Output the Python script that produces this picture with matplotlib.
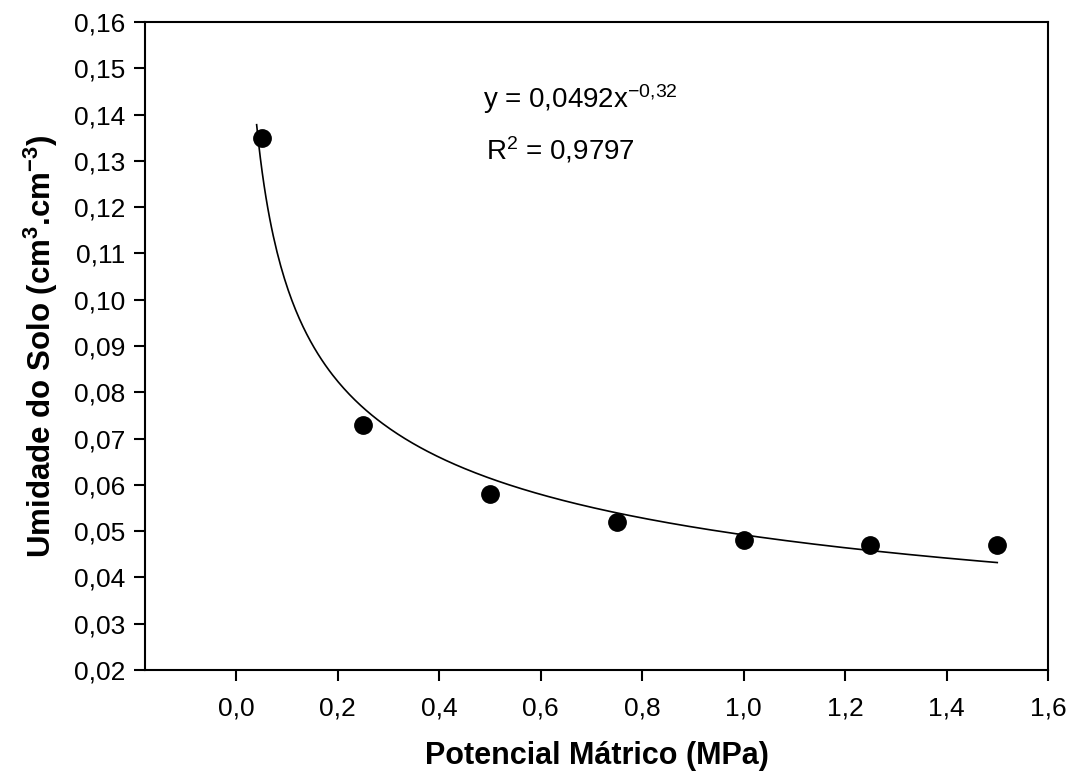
import numpy as np
import matplotlib
matplotlib.use("Agg")
import matplotlib.pyplot as plt

plt.rcParams['font.family'] = ['Liberation Sans', 'DejaVu Sans']
plt.rcParams['mathtext.fontset'] = 'custom'
plt.rcParams['mathtext.rm'] = 'Liberation Sans'
plt.rcParams['mathtext.it'] = 'Liberation Sans'
plt.rcParams['mathtext.bf'] = 'Liberation Sans:bold'

# Measured points
potencial = [0.05, 0.25, 0.50, 0.75, 1.00, 1.25, 1.50]
umidade = [0.135, 0.073, 0.058, 0.052, 0.048, 0.047, 0.047]

# Power fit shown on the chart: y = a * x^b
coef_a = 0.0492
coef_b = -0.32
fit_range = [0.04, 1.5]

xticks = [0.0, 0.2, 0.4, 0.6, 0.8, 1.0, 1.2, 1.4, 1.6]
yticks = [0.02, 0.03, 0.04, 0.05, 0.06, 0.07, 0.08, 0.09, 0.10,
          0.11, 0.12, 0.13, 0.14, 0.15, 0.16]

fig = plt.figure(figsize=(10.72, 7.76), dpi=100)
ax = fig.add_axes([0.1353, 0.1366, 0.8423, 0.835])

x_fit = np.linspace(fit_range[0], fit_range[1], 400)
ax.plot(x_fit, coef_a * x_fit ** coef_b, color='black', lw=1.2)
ax.plot(potencial, umidade, 'o', color='black', ms=12.5)

ax.set_xlim(-0.18, 1.6)
ax.set_ylim(0.02, 0.16)
ax.set_xticks(xticks)
ax.set_yticks(yticks)
ax.set_xticklabels([('%.1f' % v).replace('.', ',') for v in xticks])
ax.set_yticklabels([('%.2f' % v).replace('.', ',') for v in yticks])
ax.tick_params(direction='out', length=8, width=1.5, labelsize=19)
ax.tick_params(axis='x', pad=11)
ax.tick_params(axis='y', pad=6)
for s in ax.spines.values():
    s.set_linewidth(1.5)

ax.set_xlabel('Potencial Mátrico (MPa)', fontsize=22, fontweight='bold', labelpad=15)
ax.set_ylabel('Umidade do Solo (cm$^{\\mathbf{3}}$.cm$^{\\mathbf{-3}}$)', fontsize=22.5,
              fontweight='bold', labelpad=10)

ax.text(0.486, 0.1414, 'y = 0,0492x$^{\\mathrm{-0{,}32}}$', fontsize=20)
ax.text(0.492, 0.1302, 'R$^{\\mathrm{2}}$ = 0,9797', fontsize=20)

fig.savefig('out.png', dpi=100)
